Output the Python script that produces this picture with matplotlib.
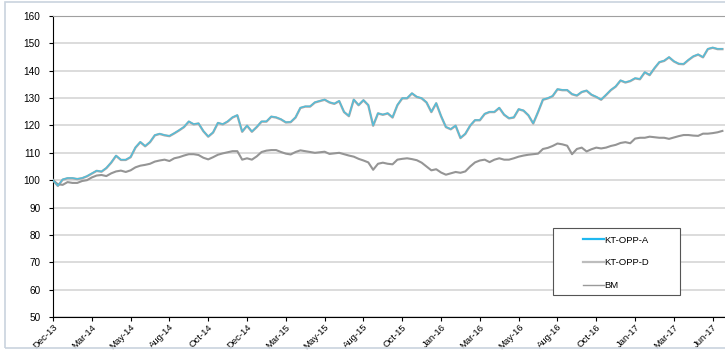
import matplotlib.pyplot as plt
from matplotlib.patches import Rectangle
from matplotlib.lines import Line2D

plt.rcParams['font.family'] = ['Liberation Sans', 'DejaVu Sans']

# indexed performance, one value per sampling step
kt_opp_a = [
    100, 98, 100.3, 100.8, 100.8, 100.5, 100.8, 101.5, 102.5, 103.5,
    103.2, 104.5, 106.5, 109, 107.5, 107.5, 108.5, 112, 114, 112.5,
    114, 116.5, 117, 116.5, 116.2, 117.2, 118.3, 119.5, 121.5, 120.5,
    120.8, 118, 116, 117.5, 121, 120.5, 121.5, 123, 123.8, 117.8,
    120, 117.8, 119.5, 121.5, 121.5, 123.3, 123, 122.3, 121.2, 121.3,
    123, 126.5, 127, 127, 128.5, 129, 129.5, 128.5, 128, 129,
    125, 123.5, 129.5, 127.5, 129.3, 127.5, 120, 124.5, 124, 124.5,
    123, 127.5, 130, 130, 131.8, 130.5, 130, 128.5, 125, 128.2,
    123.5, 119.5, 118.7, 120, 115.5, 117, 120, 122, 122, 124.3,
    125, 125, 126.5, 124, 122.7, 123, 126, 125.5, 123.8, 120.8,
    125, 129.5, 130, 130.8, 133.3, 133, 133, 131.5, 131, 132.3,
    132.8, 131.3, 130.5, 129.5, 131.2, 133, 134.3, 136.5, 135.8, 136.3,
    137.3, 137, 139.5, 138.5, 141, 143.2, 143.7, 145, 143.5, 142.6,
    142.5, 144, 145.3, 146, 145, 148, 148.5, 148, 148,
]
kt_opp_d = [
    100, 97.9, 100.2, 100.7, 100.7, 100.4, 100.7, 101.4, 102.4, 103.4,
    103.1, 104.4, 106.4, 108.9, 107.4, 107.4, 108.4, 111.9, 113.9, 112.4,
    113.9, 116.4, 116.9, 116.4, 116.1, 117.1, 118.2, 119.4, 121.4, 120.4,
    120.7, 117.9, 115.9, 117.4, 120.9, 120.4, 121.4, 122.9, 123.7, 117.7,
    119.9, 117.7, 119.4, 121.4, 121.4, 123.2, 122.9, 122.2, 121.1, 121.2,
    122.9, 126.4, 126.9, 126.9, 128.4, 128.9, 129.4, 128.4, 127.9, 128.9,
    124.9, 123.4, 129.4, 127.4, 129.2, 127.4, 119.9, 124.4, 123.9, 124.4,
    122.9, 127.4, 129.9, 129.9, 131.7, 130.4, 129.9, 128.4, 124.9, 128.1,
    123.4, 119.4, 118.6, 119.9, 115.4, 116.9, 119.9, 121.9, 121.9, 124.2,
    124.9, 124.9, 126.4, 123.9, 122.6, 122.9, 125.9, 125.4, 123.7, 120.7,
    124.9, 129.4, 129.9, 130.7, 133.2, 132.9, 132.9, 131.4, 130.9, 132.2,
    132.7, 131.2, 130.4, 129.4, 131.1, 132.9, 134.2, 136.4, 135.7, 136.2,
    137.2, 136.9, 139.4, 138.4, 140.9, 143.1, 143.6, 144.9, 143.4, 142.5,
    142.4, 143.9, 145.2, 145.9, 144.9, 147.9, 148.4, 147.9, 147.9,
]
bm = [
    100, 98.5, 98.3, 99.3, 99, 99, 99.7, 100, 101, 101.7,
    101.9, 101.5, 102.5, 103.2, 103.5, 103, 103.6, 104.7, 105.3, 105.6,
    106, 106.8, 107.2, 107.5, 107, 108, 108.4, 109, 109.5, 109.5,
    109.2, 108.2, 107.6, 108.4, 109.3, 109.8, 110.2, 110.6, 110.6, 107.5,
    108, 107.5, 108.7, 110.3, 110.8, 111, 111, 110.3, 109.7, 109.4,
    110.3, 110.9, 110.6, 110.3, 110, 110.2, 110.4, 109.6, 109.8, 110,
    109.5, 109, 108.6, 107.8, 107.2, 106.5, 103.8, 106, 106.4, 106,
    105.8, 107.5, 107.8, 108, 107.7, 107.3, 106.4, 105, 103.6, 104,
    102.8, 102, 102.5, 103, 102.7, 103.2, 105, 106.5, 107.2, 107.5,
    106.6, 107.5, 108, 107.5, 107.5, 108, 108.6, 109, 109.3, 109.5,
    109.7, 111.4, 111.8, 112.5, 113.4, 113.1, 112.6, 109.5, 111.4, 111.9,
    110.5, 111.3, 111.9, 111.6, 111.9, 112.5, 112.9, 113.6, 113.9, 113.5,
    115.2, 115.5, 115.5, 115.9, 115.7, 115.5, 115.5, 115.1, 115.6, 116.1,
    116.5, 116.5, 116.3, 116.2, 117, 117, 117.2, 117.5, 118,
]

tick_labels = ['Dec-13', 'Mar-14', 'May-14', 'Aug-14', 'Oct-14', 'Dec-14',
               'Mar-15', 'May-15', 'Aug-15', 'Oct-15', 'Jan-16', 'Mar-16',
               'May-16', 'Aug-16', 'Oct-16', 'Jan-17', 'Mar-17', 'Jun-17']
tick_step = 8

x = list(range(len(kt_opp_a)))

fig = plt.figure(figsize=(7.25, 3.5), dpi=100)
fig.patches.append(Rectangle((5 / 725, 2 / 350), 0.999, 346 / 350,
                             transform=fig.transFigure, fill=False,
                             edgecolor='#c9d3de', linewidth=1.2))
ax = fig.add_axes([53 / 725, 33 / 350, 0.93, 301 / 350])

ax.plot(x, kt_opp_d, color='#a8a8a8', linewidth=1.7, zorder=3)
ax.plot(x, kt_opp_a, color='#4cc0de', linewidth=0.9, zorder=4)
ax.plot(x, bm, color='#959595', linewidth=1.5, zorder=3)

ax.set_ylim(50, 160)
ax.set_yticks(range(50, 161, 10))
ax.set_xlim(0, 139)
ax.set_xticks([i * tick_step for i in range(len(tick_labels))])
ax.set_xticklabels(tick_labels, rotation=45, ha='right',
                   rotation_mode='anchor', fontsize=6.8)
ax.tick_params(axis='y', labelsize=7.2, length=3, width=0.8, pad=6)
ax.tick_params(axis='x', length=3, width=0.8, pad=1)

ax.grid(axis='y', color='#d9d9d9', linewidth=1.3)
ax.set_axisbelow(True)
ax.spines['left'].set_color('black')
ax.spines['bottom'].set_color('black')
ax.spines['top'].set_color('#a0a0a0')
ax.spines['right'].set_visible(False)

# legend box drawn by hand, entries placed inside it
fig.patches.append(Rectangle((553 / 725, 1 - 295 / 350), 127 / 725, 67 / 350,
                             transform=fig.transFigure, facecolor='white',
                             edgecolor='#555555', linewidth=0.8, zorder=5))
handles = [Line2D([], [], color='#1fb8f0', linewidth=1.6),
           Line2D([], [], color='#bdbdbd', linewidth=1.6),
           Line2D([], [], color='#9a9a9a', linewidth=1.0)]
leg = fig.legend(handles, ['KT-OPP-A', 'KT-OPP-D', 'BM'],
                 loc='upper left', bbox_to_anchor=(578 / 725, 1 - 231 / 350),
                 frameon=False, fontsize=6.8, handlelength=2.2,
                 handletextpad=0.1, labelspacing=1.45, borderpad=0)
leg.set_zorder(6)

fig.savefig('out.png', dpi=100)
